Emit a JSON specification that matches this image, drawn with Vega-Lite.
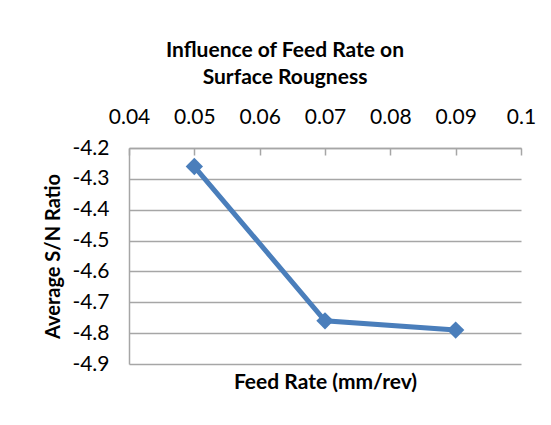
{
  "$schema": "https://vega.github.io/schema/vega-lite/v6.json",
  "width": 392,
  "height": 216,
  "autosize": "none",
  "padding": {"left": 129, "top": 148, "right": 30, "bottom": 61},
  "background": "white",
  "config": {"view": {"stroke": null}, "font": "Lato"},
  "title": {
    "text": ["Influence of Feed Rate on", "Surface Rougness"],
    "font": "Lato",
    "fontSize": 21,
    "fontWeight": "bold",
    "color": "#000000",
    "anchor": "middle",
    "dx": -40,
    "lineHeight": 27,
    "offset": 18
  },
  "data": {
    "values": [
      {"feed": 0.05, "sn": -4.26},
      {"feed": 0.07, "sn": -4.76},
      {"feed": 0.09, "sn": -4.79}
    ]
  },
  "encoding": {
    "y": {
      "field": "sn",
      "type": "quantitative",
      "scale": {"domain": [-4.9, -4.2], "nice": false, "zero": false},
      "axis": {
        "values": [-4.9, -4.8, -4.7, -4.6, -4.5, -4.4, -4.3, -4.2],
        "tickCount": 8,
        "labelExpr": "replace(format(datum.value, '.1f'), '\u2212', '-')",
        "title": "Average S/N Ratio",
        "titleFont": "Lato",
        "titleFontSize": 20,
        "titleFontWeight": "bold",
        "titleColor": "#000000",
        "titlePadding": 8,
        "grid": true,
        "gridColor": "#a6a6a6",
        "gridWidth": 1.5,
        "domainColor": "#a6a6a6",
        "domainWidth": 1.5,
        "ticks": false,
        "labelPadding": 20,
        "labelOverlap": false,
        "labelBound": false,
        "labelFlush": false,
        "labelFont": "Lato",
        "labelFontSize": 21,
        "labelColor": "#000000"
      }
    }
  },
  "resolve": {"axis": {"x": "independent"}},
  "layer": [
    {
      "mark": {"type": "line", "color": "#4a7ebb", "strokeWidth": 5, "point": {"shape": "diamond", "size": 300, "filled": true, "color": "#4a7ebb", "opacity": 1}},
      "encoding": {
        "x": {
          "field": "feed",
          "type": "quantitative",
          "scale": {"domain": [0.04, 0.1], "nice": false, "zero": false},
          "axis": {
            "orient": "top",
            "values": [0.04, 0.05, 0.06, 0.07, 0.08, 0.09, 0.1],
            "format": ".2~f",
            "title": null,
            "grid": false,
            "domainColor": "#a6a6a6",
            "domainWidth": 1.5,
            "tickColor": "#a6a6a6",
            "tickWidth": 1.5,
            "tickSize": -7,
            "labelPadding": 28,
            "labelOverlap": false,
            "labelFlush": false,
            "labelFont": "Lato",
            "labelFontSize": 21,
            "labelColor": "#000000"
          }
        }
      }
    },
    {
      "mark": {"type": "point", "opacity": 0},
      "encoding": {
        "x": {
          "field": "feed",
          "type": "quantitative",
          "axis": {
            "orient": "bottom",
            "title": "Feed Rate (mm/rev)",
            "titleFont": "Lato",
            "titleFontSize": 21,
            "titleFontWeight": "bold",
            "titleColor": "#000000",
            "titlePadding": 7,
            "labels": false,
            "ticks": false,
            "domain": false,
            "grid": false
          }
        }
      }
    }
  ]
}
